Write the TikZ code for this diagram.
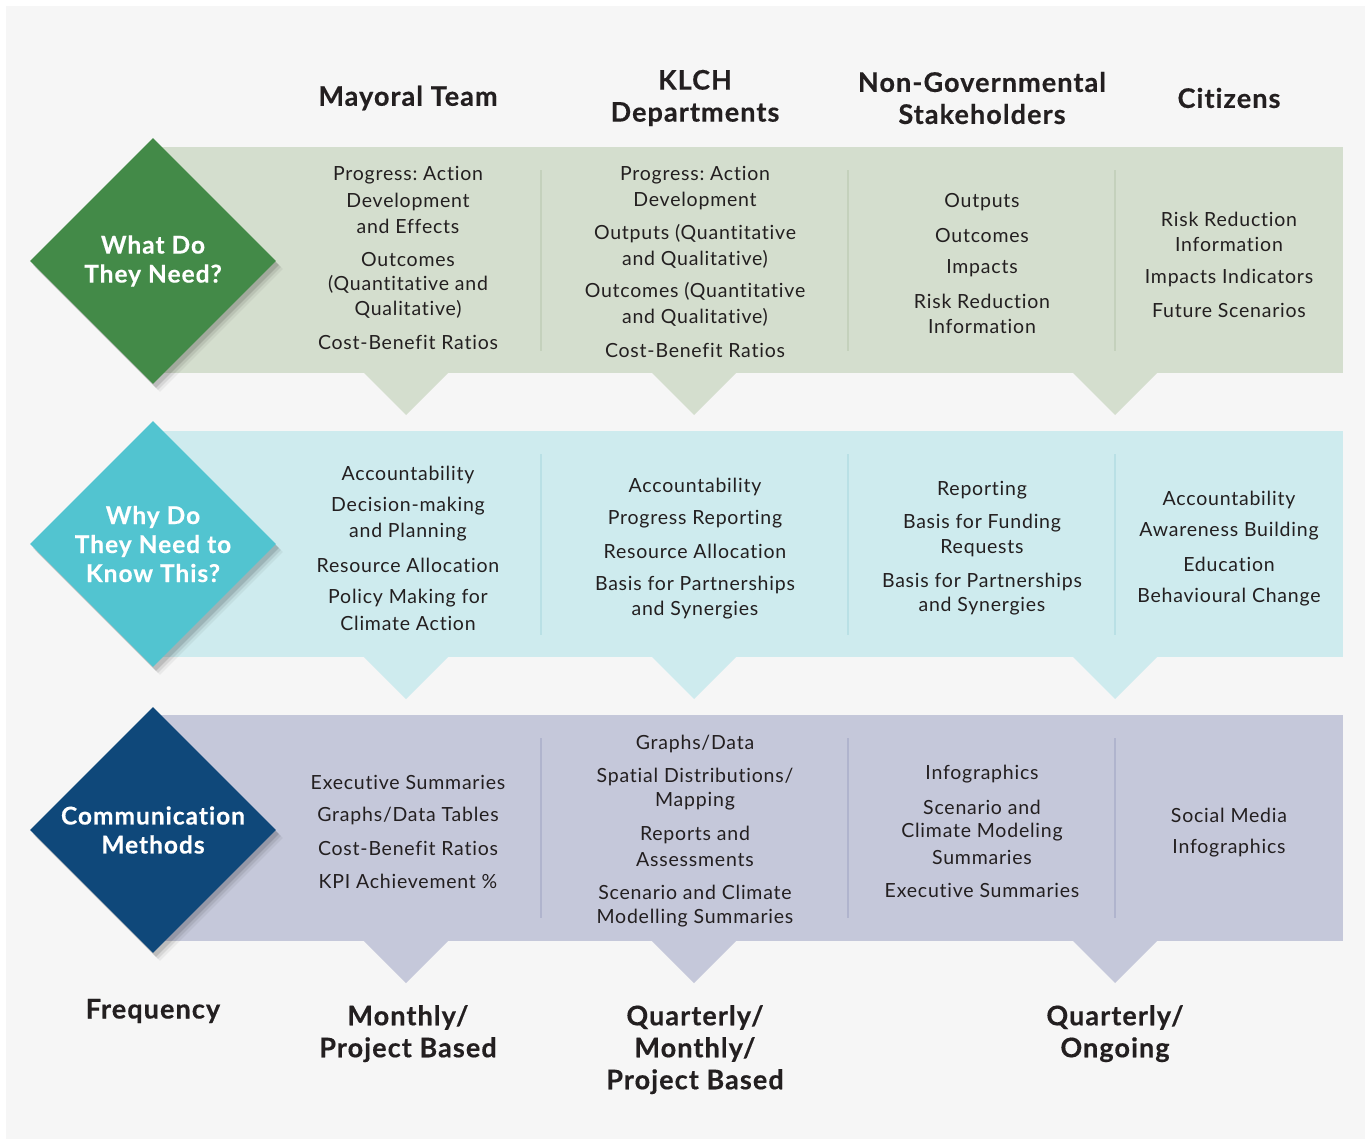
\documentclass[tikz,border=0pt]{standalone}
\usepackage{fontspec}
\setmainfont{Lato}[LetterSpace=4,Ligatures=NoCommon,BoldFeatures={FakeBold=0.4}]
\frenchspacing
\usetikzlibrary{shapes.geometric,shadows}
\definecolor{bgc}{HTML}{F6F6F6}
\definecolor{gband}{HTML}{D4DECE}
\definecolor{gdiv}{HTML}{C4D1BC}
\definecolor{gdia}{HTML}{438A48}
\definecolor{cband}{HTML}{CEEBEE}
\definecolor{cdiv}{HTML}{B9E0E5}
\definecolor{cdia}{HTML}{52C4D0}
\definecolor{pband}{HTML}{C5C8DA}
\definecolor{pdiv}{HTML}{B0B4CD}
\definecolor{pdia}{HTML}{0F487A}
\definecolor{txtc}{HTML}{231F20}
\newcounter{tcnt}
\newcommand\tl[3]{\stepcounter{tcnt}\node[bodytxt] (t\arabic{tcnt}) at (#1,#2) {#3};}
\tikzset{
  bodytxt/.style={text=txtc,font=\fontsize{19.5}{23}\selectfont,inner sep=0pt,anchor=center,yshift=-1.5pt},
  headtxt/.style={text=txtc,font=\fontsize{27}{32}\selectfont\bfseries,inner sep=0pt,align=center,anchor=center},
  diatxt/.style={diamond,minimum width=246pt,minimum height=246pt,inner sep=0pt,text=white,
    font=\fontsize{24.5}{29}\selectfont\bfseries,align=center,
    drop shadow={shadow xshift=3pt,shadow yshift=-4pt,opacity=.12,fill=black},
    drop shadow={shadow xshift=5pt,shadow yshift=-6pt,opacity=.08,fill=black},
    drop shadow={shadow xshift=7pt,shadow yshift=-8pt,opacity=.05,fill=black}},
  divline/.style={line width=2.2pt},
}
\begin{document}
\begin{tikzpicture}[x=1pt,y=-1pt]
\useasboundingbox (0,0) rectangle (1370,1140);
\fill[white] (0,0) rectangle (1370,1140);
\fill[bgc] (6,6) rectangle (1365,1139);
% bands with pointers
\foreach \top/\col in {147/gband,431/cband,715/pband}{
  \pgfmathsetmacro\bot{\top+226}
  \pgfmathsetmacro\apex{\top+268}
  \fill[\col] (153,\top) rectangle (1343,\bot);
  \foreach \cx in {406,694,1115}{
    \fill[\col] (\cx-42.5,\bot-0.5) -- (\cx+42.5,\bot-0.5) -- (\cx,\apex) -- cycle;
  }
}
% dividers
\foreach \xx in {541,848,1115}{
  \draw[divline,gdiv] (\xx,170) -- (\xx,351);
  \draw[divline,cdiv] (\xx,454) -- (\xx,635);
  \draw[divline,pdiv] (\xx,738) -- (\xx,918);
}
% diamonds
\node[diatxt,fill=gdia] (d1) at (153,261) {What Do\\They Need?};
\node[diatxt,fill=cdia] (d2) at (153,544) {Why Do\\They Need to\\Know This?};
\node[diatxt,fill=pdia] (d3) at (153,830) {Communication\\Methods};
% headers
\node[headtxt] (h1) at (408,98) {Mayoral Team};
\node[headtxt] (h2) at (695,98) {KLCH\\Departments};
\node[headtxt] (h3) at (982,98) {Non-Governmental\\Stakeholders};
\node[headtxt] (h4) at (1229,98) {Citizens};
% row 1
\tl{408}{174}{Progress: Action}
\tl{408}{200}{Development}
\tl{408}{225}{and Effects}
\tl{408}{258}{Outcomes}
\tl{408}{283}{(Quantitative and}
\tl{408}{308}{Qualitative)}
\tl{408}{341}{Cost-Benefit Ratios}
\tl{695}{174}{Progress: Action}
\tl{695}{199}{Development}
\tl{695}{232}{Outputs (Quantitative}
\tl{695}{258}{and Qualitative)}
\tl{695}{290}{Outcomes (Quantitative}
\tl{695}{316}{and Qualitative)}
\tl{695}{349}{Cost-Benefit Ratios}
\tl{982}{201}{Outputs}
\tl{982}{234}{Outcomes}
\tl{982}{267}{Impacts}
\tl{982}{300}{Risk Reduction}
\tl{982}{325}{Information}
\tl{1229}{218}{Risk Reduction}
\tl{1229}{243}{Information}
\tl{1229}{276}{Impacts Indicators}
\tl{1229}{309}{Future Scenarios}
% row 2
\tl{408}{473}{Accountability}
\tl{408}{505}{Decision-making}
\tl{408}{531}{and Planning}
\tl{408}{564}{Resource Allocation}
\tl{408}{597}{Policy Making for}
\tl{408}{622}{Climate Action}
\tl{695}{485}{Accountability}
\tl{695}{518}{Progress Reporting}
\tl{695}{550}{Resource Allocation}
\tl{695}{583}{Basis for Partnerships}
\tl{695}{609}{and Synergies}
\tl{982}{489}{Reporting}
\tl{982}{522}{Basis for Funding}
\tl{982}{547}{Requests}
\tl{982}{580}{Basis for Partnerships}
\tl{982}{605}{and Synergies}
\tl{1229}{498}{Accountability}
\tl{1229}{530}{Awareness Building}
\tl{1229}{563}{Education}
\tl{1229}{596}{Behavioural Change}
% row 3
\tl{408}{781}{Executive Summaries}
\tl{408}{814}{Graphs/Data Tables}
\tl{408}{847}{Cost-Benefit Ratios}
\tl{408}{880}{KPI Achievement \%}
\tl{695}{742}{Graphs/Data}
\tl{695}{775}{Spatial Distributions/}
\tl{695}{800}{Mapping}
\tl{695}{833}{Reports and}
\tl{695}{858}{Assessments}
\tl{695}{891}{Scenario and Climate}
\tl{695}{917}{Modelling Summaries}
\tl{982}{773}{Infographics}
\tl{982}{806}{Scenario and}
\tl{982}{831}{Climate Modeling}
\tl{982}{856}{Summaries}
\tl{982}{889}{Executive Summaries}
\tl{1229}{814}{Social Media}
\tl{1229}{847}{Infographics}
% frequency
\node[headtxt] (f0) at (153,1011) {Frequency};
\node[headtxt,anchor=north] (f1) at (408,1005) {Monthly/\\Project Based};
\node[headtxt,anchor=north] (f2) at (695,1005) {Quarterly/\\Monthly/\\Project Based};
\node[headtxt,anchor=north] (f3) at (1115,1005) {Quarterly/\\Ongoing};
\end{tikzpicture}
\end{document}
